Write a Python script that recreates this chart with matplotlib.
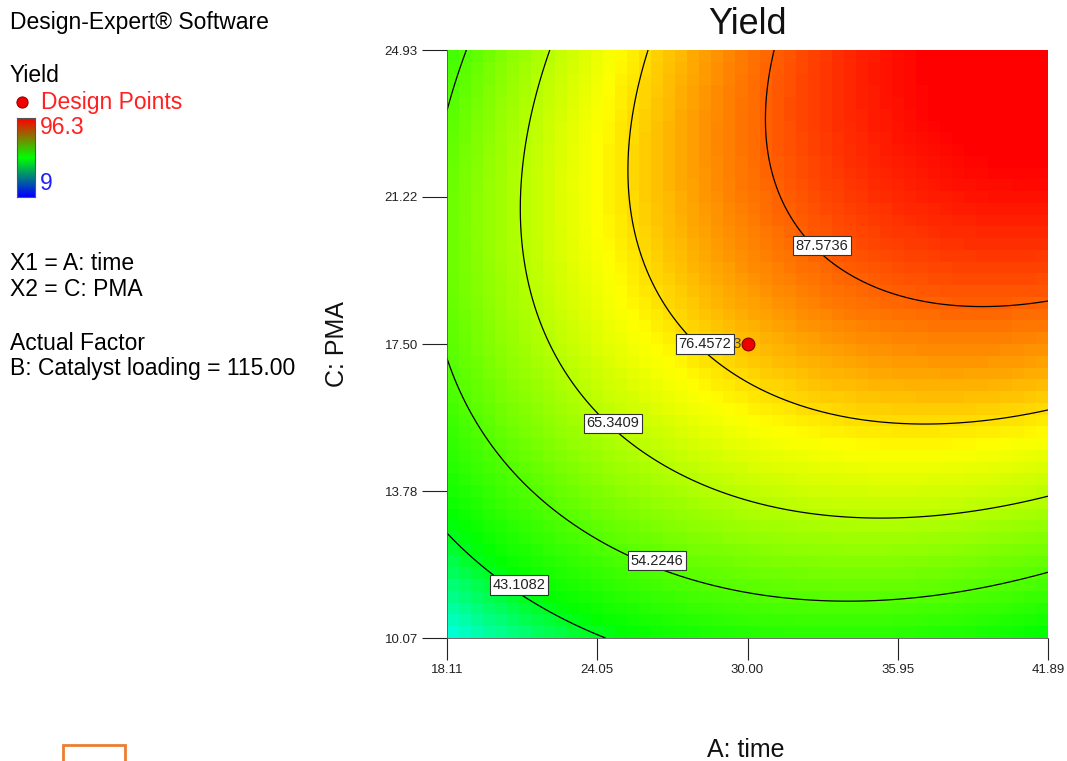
import numpy as np
import matplotlib
matplotlib.use("Agg")
import matplotlib.pyplot as plt
from matplotlib.colors import LinearSegmentedColormap, Normalize
from matplotlib.lines import Line2D
from matplotlib.patches import Rectangle

# ---------------- data ----------------
A_ticks = [18.11, 24.05, 30.00, 35.95, 41.89]          # A: time
C_ticks = [10.07, 13.78, 17.50, 21.22, 24.93]          # C: PMA
A_range = [18.11, 41.89]
C_range = [10.07, 24.93]
yield_range = [9.0, 96.3]
contour_levels = [43.1082, 54.2246, 65.3409, 76.4572, 87.5736]
contour_labels = ["43.1082", "54.2246", "65.3409", "76.4572", "87.5736"]
label_A = [20.96, 26.42, 24.68, 28.32, 32.95]
label_C = [11.41, 12.02, 15.50, 17.50, 19.98]
design_A = [30.00]
design_C = [17.50]
design_reps = ["3"]
# response-surface model in coded units (B: Catalyst loading = 115.00)
b0 = 79.2
bA = 14.44
bC = 19.4
bAC = 9.63
bAA = -10.03
bCC = -13.08
bCCC = -0.705
bCCCC = 0.705
bACCC = -0.54
bACCCC = 0.54

W, H = 1067, 761
fig = plt.figure(figsize=(W / 100, H / 100), dpi=100)
plt.rcParams['font.family'] = ['Liberation Sans', 'DejaVu Sans']

def fx(px):
    return px / W

def fy(py):
    return 1 - py / H

ax = fig.add_axes([fx(447), fy(638), (1048 - 447) / W, (638 - 50) / H])

def yield_model(A, C):
    a = (A - np.mean(A_range)) / ((A_range[1] - A_range[0]) / 2)
    c = (C - np.mean(C_range)) / ((C_range[1] - C_range[0]) / 2)
    return (b0 + bA * a + bC * c + bAC * a * c + bAA * a ** 2 + bCC * c ** 2
            + bCCC * c ** 3 + bCCCC * c ** 4 + bACCC * a * c ** 3 + bACCCC * a * c ** 4)

cmap = LinearSegmentedColormap.from_list(
    "de", [(0.0, "#0000ff"), (0.25, "#00ffff"), (0.41, "#00ff00"),
           (0.74, "#ffff00"), (1.0, "#ff0000")])
norm = Normalize(vmin=yield_range[0], vmax=yield_range[1])

# blocky colour fill
n = 50
Ae = np.linspace(A_range[0], A_range[1], n + 1)
Ce = np.linspace(C_range[0], C_range[1], n + 1)
Ac = (Ae[:-1] + Ae[1:]) / 2
Cc = (Ce[:-1] + Ce[1:]) / 2
AA, CC = np.meshgrid(Ac, Cc)
ax.pcolormesh(Ae, Ce, yield_model(AA, CC), cmap=cmap, norm=norm, shading='flat')

# contour lines
Af = np.linspace(A_range[0], A_range[1], 300)
Cf = np.linspace(C_range[0], C_range[1], 300)
AF, CF = np.meshgrid(Af, Cf)
ax.contour(AF, CF, yield_model(AF, CF), levels=contour_levels,
           colors='black', linewidths=0.9)

# design point
ax.text(design_A[0] - 0.24, design_C[0], design_reps[0], ha='right', va='center',
        fontsize=11, color='#444444', zorder=4)
ax.scatter(design_A, design_C, s=85, color='#ee0000', edgecolors='#880000',
           linewidths=0.8, zorder=6)

# contour labels
for a, c, t in zip(label_A, label_C, contour_labels):
    ax.text(a, c, t, ha='center', va='center', fontsize=10.5,
            color='#222222', zorder=5,
            bbox=dict(boxstyle='square,pad=0.18', fc='white', ec='#333333', lw=0.8))

ax.set_xlim(A_range)
ax.set_ylim(C_range)
ax.set_xticks(A_ticks)
ax.set_xticklabels(["%.2f" % v for v in A_ticks])
ax.set_yticks(C_ticks)
ax.set_yticklabels(["%.2f" % v for v in C_ticks])
ax.tick_params(axis='x', direction='out', length=16, width=0.8, pad=3,
               labelsize=9.5, colors='#222222')
ax.tick_params(axis='y', direction='out', length=18, width=0.8, pad=3,
               labelsize=9.5, colors='#222222')
for s in ['top', 'right']:
    ax.spines[s].set_visible(False)
for s in ['left', 'bottom']:
    ax.spines[s].set_linewidth(0.6)
    ax.spines[s].set_color('#555555')

# title and axis labels
fig.text(fx(747), fy(24), "Yield", ha='center', va='center', fontsize=26, color='#111111')
fig.text(fx(746), fy(750), "A: time", ha='center', va='center', fontsize=18, color='#111111')
fig.text(fx(337), fy(344), "C: PMA", ha='center', va='center', fontsize=18,
         rotation=90, color='#111111')

# left legend block
fs = 16.5
fig.text(fx(10), fy(22), "Design-Expert\u00ae Software", ha='left', va='center', fontsize=fs)
fig.text(fx(10), fy(75), "Yield", ha='left', va='center', fontsize=fs)
fig.add_artist(Line2D([fx(22)], [fy(102)], transform=fig.transFigure, marker='o',
                      ms=8, color='#ee0000', mec='#990000', mew=0.8, ls='none'))
fig.text(fx(41), fy(102), "Design Points", ha='left', va='center', fontsize=fs, color='#ff2020')

cax = fig.add_axes([fx(17), fy(197), 18 / W, 79 / H])
legcmap = LinearSegmentedColormap.from_list("leg", ["#0000ff", "#00ff00", "#ff0000"])
cax.imshow(np.linspace(1, 0, 100).reshape(-1, 1), aspect='auto', cmap=legcmap,
           extent=[0, 1, 0, 1])
cax.set_xticks([])
cax.set_yticks([])
for s in cax.spines.values():
    s.set_color('#555555')
    s.set_linewidth(0.8)
fig.text(fx(40), fy(128), "%.1f" % yield_range[1], ha='left', va='center', fontsize=fs, color='#ff2020')
fig.text(fx(40), fy(183), "%g" % yield_range[0], ha='left', va='center', fontsize=fs, color='#2020ff')

fig.text(fx(10), fy(263), "X1 = A: time", ha='left', va='center', fontsize=fs)
fig.text(fx(10), fy(289), "X2 = C: PMA", ha='left', va='center', fontsize=fs)
fig.text(fx(10), fy(343), "Actual Factor", ha='left', va='center', fontsize=fs)
fig.text(fx(10), fy(369), "B: Catalyst loading = 115.00", ha='left', va='center', fontsize=fs)

# orange box at bottom-left
fig.add_artist(Rectangle((fx(63), fy(770)), 62 / W, 25 / H, transform=fig.transFigure,
                         fill=False, ec='#ed7d31', lw=2))

fig.savefig("out.png", dpi=100)
